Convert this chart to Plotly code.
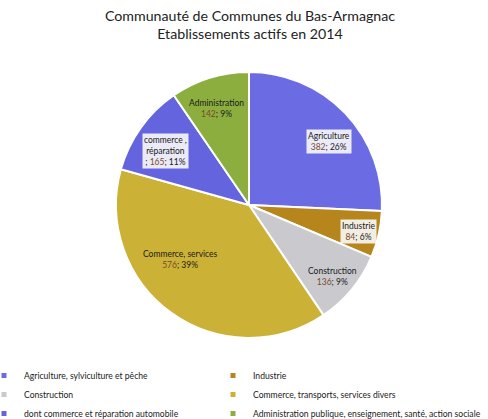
import math
import plotly.graph_objects as go

# ---- data ----
legend_labels = [
    "Agriculture, sylviculture et pêche",
    "Industrie",
    "Construction",
    "Commerce, transports, services divers",
    "dont commerce et réparation automobile",
    "Administration publique, enseignement, santé, action sociale",
]
slice_names = ["Agriculture", "Industrie", "Construction", "Commerce, services",
               "commerce ,<br>réparation", "Administration"]
values = [382, 84, 136, 576, 165, 142]
percents = [26, 6, 9, 39, 11, 9]

# ---- style ----
colors = ["#6b6be4", "#b6861c", "#c9c9ce", "#cbb236", "#6464df", "#8cae3f"]
label_sep = ["<br>", "<br>", "<br>", "<br>", "<br>; ", "<br>"]
label_r = [0.77, 0.85, 0.83, 0.66, 0.75, 0.77]
label_dang = [5.2, 1.0, 1.2, 15.7, -2.9, -1.5]
label_box = [True, True, False, False, True, False]
legend_column = ["legend", "legend2", "legend", "legend2", "legend", "legend2"]
VALUE_COLOR = "#7a4a2c"
FONT = "Lato"

W, H = 488, 419
MB = 70                 # bottom margin holding the legend
HP = H - MB             # plot-area height
CX, CY, R = 249, 205, 133

fig = go.Figure()
fig.add_trace(go.Pie(
    labels=legend_labels,
    values=values,
    sort=False,
    direction="clockwise",
    rotation=0,
    textinfo="none",
    hoverinfo="label+value+percent",
    marker=dict(colors=colors, line=dict(color="white", width=2)),
    showlegend=False,
    domain=dict(x=[(CX - R) / W, (CX + R) / W], y=[1 - (CY + R) / HP, 1 - (CY - R) / HP]),
))

# legend entries (small square markers), two columns
for name, col, lg in zip(legend_labels, colors, legend_column):
    fig.add_trace(go.Scatter(
        x=[None], y=[None], mode="markers", name=name, legend=lg,
        marker=dict(symbol="square", size=5, color=col),
        hoverinfo="skip",
    ))

# slice labels
total = sum(values)
cum = 0
annotations = []
for i, v in enumerate(values):
    mid = (cum + v / 2) / total * 360 + label_dang[i]
    cum += v
    a = math.radians(mid)
    px = CX + label_r[i] * R * math.sin(a)
    py = CY - label_r[i] * R * math.cos(a)
    txt = (f"{slice_names[i]}{label_sep[i]}"
           f"<span style='color:{VALUE_COLOR}'>{v}</span>; {percents[i]}%")
    annotations.append(dict(
        x=px / W, y=1 - py / HP, xref="paper", yref="paper",
        text=txt, showarrow=False, xanchor="center", yanchor="middle",
        font=dict(family=FONT, size=8.5, color="#1a1a1a"),
        bgcolor="rgba(250,250,250,0.9)" if label_box[i] else None,
        borderpad=1,
    ))

legend_common = dict(
    orientation="v", xanchor="left", y=1 - 361 / HP, yanchor="top",
    font=dict(family=FONT, size=8.6, color="#222222"),
    bgcolor="rgba(0,0,0,0)", itemwidth=30, traceorder="normal",
)

fig.update_layout(
    width=W, height=H,
    margin=dict(l=0, r=0, t=0, b=MB, autoexpand=False),
    paper_bgcolor="white", plot_bgcolor="white",
    title=dict(
        text="Communauté de Communes du Bas-Armagnac<br>Etablissements actifs en 2014",
        x=250 / W, xanchor="center", y=1 - 21 / H, yanchor="top", yref="container",
        font=dict(family=FONT, size=14.2, color="#222222"),
    ),
    xaxis=dict(visible=False), yaxis=dict(visible=False),
    showlegend=True,
    legend=dict(x=-16 / W, **legend_common),
    legend2=dict(x=(255 - 42) / W, **legend_common),
    annotations=annotations,
)

fig.write_html("out.html")
